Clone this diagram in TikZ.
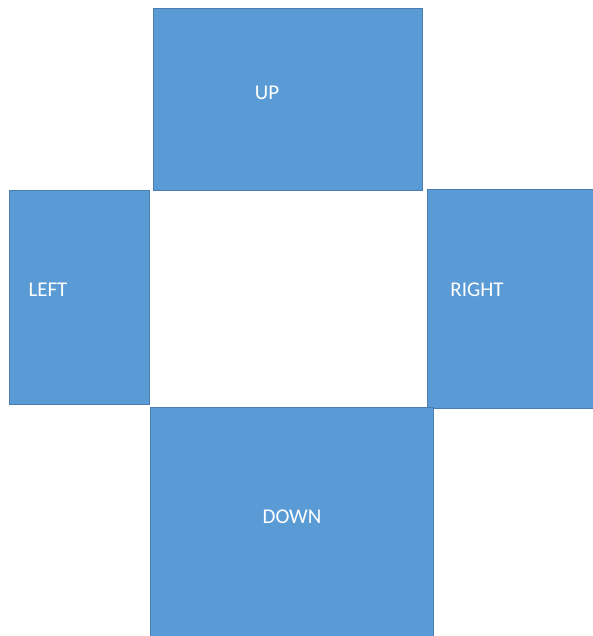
\documentclass[tikz,border=0pt]{standalone}
\usepackage{fontspec}
\setmainfont{Carlito}
\definecolor{boxfill}{HTML}{5B9BD5}
\definecolor{boxedge}{HTML}{4A7EB0}
\tikzset{
  panel/.style={fill=boxfill, draw=boxedge, line width=0.8pt},
  lbl/.style={text=white, font=\fontsize{21}{24}\selectfont, inner sep=0pt}
}
\begin{document}
\begin{tikzpicture}[x=1pt,y=-1pt]
\useasboundingbox (0,0) rectangle (592,636);
\draw[panel] (153,8) rectangle (422,190);
\draw[panel] (9,190) rectangle (149,404);
\draw[panel] (427,189) rectangle (593,408);
\draw[panel] (150,407) rectangle (433,637);
\node[lbl] (up) at (267,93) {UP};
\node[lbl] (left) at (48,290) {LEFT};
\node[lbl] (right) at (477,290) {RIGHT};
\node[lbl] (down) at (292,517) {DOWN};
\end{tikzpicture}
\end{document}
